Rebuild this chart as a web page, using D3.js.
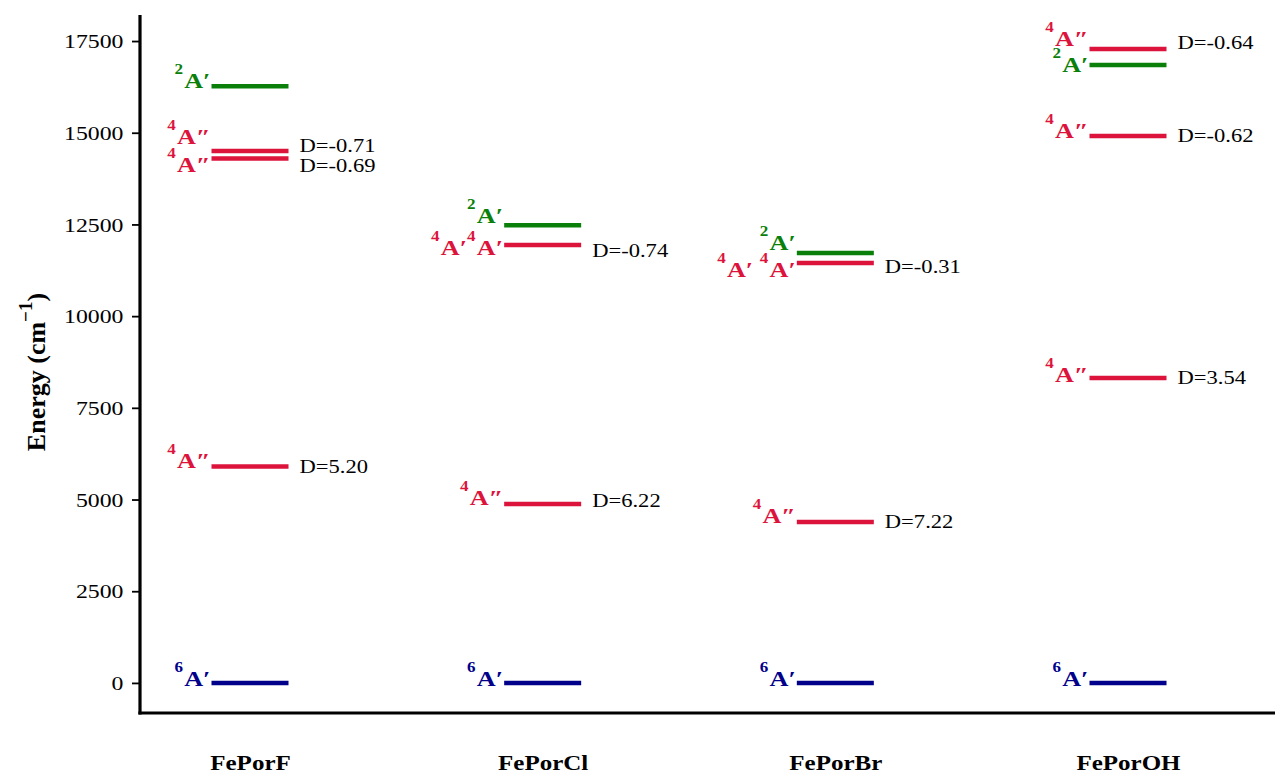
<!DOCTYPE html>
<html>
<head>
<meta charset="utf-8">
<script src="https://cdn.jsdelivr.net/npm/d3@7"></script>
<style>
  html, body { margin: 0; padding: 0; background: #fff; }
  svg { display: block; }
  text { font-family: "Liberation Serif", "Times New Roman", serif; }
</style>
</head>
<body>
<svg id="chart" width="1275" height="774"></svg>
<script>
// Complexes along the horizontal axis
const systems = ["FePorF", "FePorCl", "FePorBr", "FePorOH"];

// Energy levels (cm^-1), one entry per level
const levelSystem = [
  "FePorF", "FePorF", "FePorF", "FePorF", "FePorF",
  "FePorCl", "FePorCl", "FePorCl", "FePorCl",
  "FePorBr", "FePorBr", "FePorBr", "FePorBr",
  "FePorOH", "FePorOH", "FePorOH", "FePorOH", "FePorOH"
];
const levelEnergy = [
  0, 5900, 14300, 14500, 16270,
  0, 4880, 11940, 12480,
  0, 4390, 11450, 11720,
  0, 8310, 14910, 16850, 17280
];
// Spin multiplicity of each level (sets its colour)
const levelMult = [
  6, 4, 4, 4, 2,
  6, 4, 4, 2,
  6, 4, 4, 2,
  6, 4, 4, 2, 4
];
// Term symbols written beside each level: [multiplicity, symbol] pairs
const levelTerms = [
  [["6", "A\u2032"]], [["4", "A\u2033"]], [["4", "A\u2033"]], [["4", "A\u2033"]], [["2", "A\u2032"]],
  [["6", "A\u2032"]], [["4", "A\u2033"]], [["4", "A\u2032"], ["4", "A\u2032"]], [["2", "A\u2032"]],
  [["6", "A\u2032"]], [["4", "A\u2033"]], [["4", "A\u2032 "], ["4", "A\u2032"]], [["2", "A\u2032"]],
  [["6", "A\u2032"]], [["4", "A\u2033"]], [["4", "A\u2033"]], [["2", "A\u2032"]], [["4", "A\u2033"]]
];
// Zero-field splitting D (cm^-1) of the quartets, null where none is given
const levelD = [
  null, 5.20, -0.69, -0.71, null,
  null, 6.22, -0.74, null,
  null, 7.22, -0.31, null,
  null, 3.54, -0.62, null, -0.64
];

// Energy axis ticks
const yTicks = [0, 2500, 5000, 7500, 10000, 12500, 15000, 17500];

// Vertical nudges (px) that keep crowded labels apart
const termShift = [1, -1, 12, -9, 0, 1, -1, 8, -4, 1, -1, 12, -5, 1, 2, 0, 5, -5];
const dShift = [0, 0, 8, -5, 0, 0, -3, 6, 0, 0, 0, 4, 0, 0, 0, 0, 0, -6];

const svg = d3.select("#chart");
const SX = 1.22; // horizontal stretch applied to the lettering

const axisX = 140, axisBottom = 713, axisTop = 15;
const y = d3.scaleLinear().domain([-820, 18210]).range([axisBottom, axisTop]);
const x = d3.scalePoint().domain(systems).range([250, 1128]);
const halfW = 38.5;

const colour = d3.scaleOrdinal().domain([6, 4, 2]).range(["#00008B", "#DC143C", "#0A800A"]);

// y axis
const gy = svg.append("g")
  .attr("transform", `translate(${axisX},0)`)
  .call(d3.axisLeft(y).tickValues(yTicks).tickSize(8).tickSizeOuter(0).tickFormat(d3.format("d")));
gy.select(".domain").attr("stroke", "#000").attr("stroke-width", 3.2)
  .attr("d", `M0,${axisTop}V${axisBottom + 1.6}`);
gy.selectAll(".tick line").attr("stroke", "#000").attr("stroke-width", 1.8);
gy.selectAll(".tick text")
  .attr("x", null).attr("dy", "0.34em")
  .attr("transform", `translate(-16.5,0) scale(${SX},1)`)
  .attr("font-family", "Liberation Serif")
  .attr("font-size", 19.5).attr("fill", "#000");

// x axis baseline and category names
svg.append("line")
  .attr("x1", axisX - 1.6).attr("x2", 1275)
  .attr("y1", axisBottom).attr("y2", axisBottom)
  .attr("stroke", "#000").attr("stroke-width", 3.2);
const gx = svg.append("g")
  .attr("transform", `translate(0,${axisBottom})`)
  .call(d3.axisBottom(x).tickSize(0));
gx.select(".domain").remove();
gx.selectAll(".tick text")
  .attr("y", null).attr("dy", null)
  .attr("transform", `translate(0,57) scale(${SX},1)`)
  .attr("font-family", "Liberation Serif")
  .attr("font-weight", "bold").attr("font-size", 20.5).attr("fill", "#000");

// y axis title
const title = svg.append("text")
  .attr("transform", "translate(45,372) rotate(-90)")
  .attr("text-anchor", "middle")
  .attr("font-weight", "bold").attr("font-size", 26).attr("fill", "#000");
title.append("tspan").text("Energy (cm");
title.append("tspan").attr("font-size", 19).attr("dy", -13).text("\u22121");
title.append("tspan").attr("dy", 13).text(")");

// energy levels
const idx = d3.range(levelEnergy.length);
svg.append("g").selectAll("line")
  .data(idx)
  .join("line")
  .attr("x1", i => x(levelSystem[i]) - halfW)
  .attr("x2", i => x(levelSystem[i]) + halfW)
  .attr("y1", i => y(levelEnergy[i]))
  .attr("y2", i => y(levelEnergy[i]))
  .attr("stroke", i => colour(levelMult[i]))
  .attr("stroke-width", 4.5);

// term symbols left of each level
const terms = svg.append("g").selectAll("text")
  .data(idx)
  .join("text")
  .attr("transform", i => `translate(${x(levelSystem[i]) - halfW - 1},${y(levelEnergy[i]) + 2 + termShift[i]}) scale(${SX},1)`)
  .attr("text-anchor", "end")
  .attr("font-weight", "bold")
  .attr("fill", i => colour(levelMult[i]));
terms.each(function (i) {
  const t = d3.select(this);
  levelTerms[i].forEach(([m, s]) => {
    t.append("tspan").attr("font-size", 14).attr("dy", -14).text(m);
    t.append("tspan").attr("font-size", 21.5).attr("dy", 14).attr("dx", 1).text(s);
  });
});

// zero-field splitting labels right of the quartets
const fmtD = v => "D=" + d3.format(".2f")(v).replace("\u2212", "-");
svg.append("g").selectAll("text")
  .data(idx.filter(i => levelD[i] !== null))
  .join("text")
  .attr("transform", i => `translate(${x(levelSystem[i]) + halfW + 11},${y(levelEnergy[i]) + 6 + dShift[i]}) scale(${SX},1)`)
  .attr("font-size", 18.5)
  .attr("fill", "#000")
  .text(i => fmtD(levelD[i]));
</script>
</body>
</html>
